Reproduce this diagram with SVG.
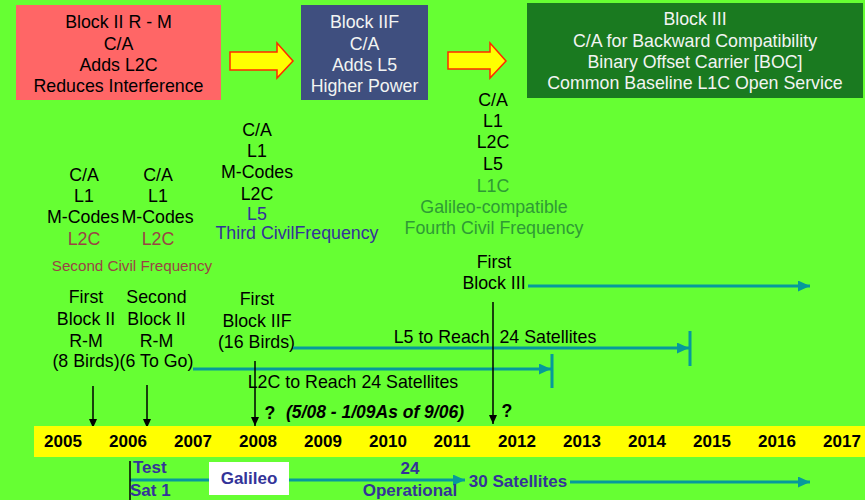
<svg xmlns="http://www.w3.org/2000/svg" width="865" height="500" viewBox="0 0 865 500">
<style>
text{font-family:"Liberation Sans",Arial,sans-serif;font-size:17.8px;text-anchor:middle;fill:#000}
.w{fill:#F2F4F2}
.br{fill:#994444}
.bl{fill:#333399}
.gr{fill:#2E9B35}
.sm{font-size:15.2px}
.b{font-weight:bold}
.yr{font-weight:bold;font-size:17px}
.tl{stroke:#06999B;stroke-width:3;fill:none}
.bk{stroke:#000;stroke-width:1.5;fill:none}
.ya{fill:#FFFF00;stroke:#FF2A00;stroke-width:1.5}
</style>
<defs>
<marker id="mt" markerUnits="userSpaceOnUse" markerWidth="12" markerHeight="11" refX="12" refY="5.5" orient="auto"><path d="M0,0 L12,5.5 L0,11 Z" fill="#06999B"/></marker>
<marker id="mb" markerUnits="userSpaceOnUse" markerWidth="9" markerHeight="8" refX="9" refY="4" orient="auto"><path d="M0,0 L9,4 L0,8 Z" fill="#000"/></marker>
</defs>
<rect width="865" height="500" fill="#66FF33"/>

<g id="block2rm">
<rect x="16" y="5" width="205" height="95" fill="#FF6666"/>
<text x="118.5" y="28">Block II R - M</text>
<text x="118.5" y="49.5">C/A</text>
<text x="118.5" y="71">Adds L2C</text>
<text x="118.5" y="92">Reduces Interference</text>
</g>
<g id="arrow1"><path class="ya" d="M230,52 H277 V43 L293,61 L277,78 V70 H230 Z"/></g>
<g id="block2f">
<rect x="301" y="5" width="127" height="95" fill="#3F4F7F"/>
<text class="w" x="364.5" y="28">Block IIF</text>
<text class="w" x="364.5" y="49.5">C/A</text>
<text class="w" x="364.5" y="71">Adds L5</text>
<text class="w" x="364.5" y="92">Higher Power</text>
</g>
<g id="arrow2"><path class="ya" d="M448,52 H490 V43 L506,61 L490,78 V69 H448 Z"/></g>
<g id="block3">
<rect x="527" y="3" width="336" height="95" fill="#1A7A20"/>
<text class="w" x="695" y="25">Block III</text>
<text class="w" x="695" y="46.5">C/A for Backward Compatibility</text>
<text class="w" x="695" y="68">Binary Offset Carrier [BOC]</text>
<text class="w" x="695" y="89">Common Baseline L1C Open Service</text>
</g>

<g id="signals1">
<text x="84" y="181">C/A</text>
<text x="84" y="202">L1</text>
<text x="83" y="223">M-Codes</text>
<text class="br" x="84" y="245">L2C</text>
</g>
<g id="signals2">
<text x="158" y="181">C/A</text>
<text x="158" y="202">L1</text>
<text x="157.5" y="223">M-Codes</text>
<text class="br" x="158" y="245">L2C</text>
</g>
<text class="br sm" x="132" y="271">Second Civil Frequency</text>
<g id="signals3">
<text x="257" y="136">C/A</text>
<text x="257" y="157">L1</text>
<text x="257" y="178">M-Codes</text>
<text x="257" y="199.5">L2C</text>
<text class="bl" x="257" y="220">L5</text>
<text class="bl" x="297" y="239">Third CivilFrequency</text>
</g>
<g id="signals4">
<text x="493" y="106">C/A</text>
<text x="493" y="127">L1</text>
<text x="493" y="148">L2C</text>
<text x="493" y="170">L5</text>
<text class="gr" x="493" y="192">L1C</text>
<text class="gr" x="494" y="213">Galileo-compatible</text>
<text class="gr" x="494" y="234">Fourth Civil Frequency</text>
</g>

<g id="launch1">
<text x="86" y="303">First</text>
<text x="86" y="325">Block II</text>
<text x="86" y="347">R-M</text>
<text x="86" y="367">(8 Birds)</text>
</g>
<g id="launch2">
<text x="156.5" y="303">Second</text>
<text x="156.5" y="325">Block II</text>
<text x="156.5" y="347">R-M</text>
<text x="156.5" y="367">(6 To Go)</text>
</g>
<g id="launch3">
<text x="257" y="305">First</text>
<text x="257" y="327">Block IIF</text>
<text x="256.5" y="348">(16 Birds)</text>
</g>
<g id="launch4">
<text x="494" y="268">First</text>
<text x="494" y="289">Block III</text>
</g>

<g id="connectors">
<line class="tl" x1="528" y1="286" x2="810" y2="286" marker-end="url(#mt)"/>
<line class="tl" x1="293" y1="348" x2="689" y2="348" marker-end="url(#mt)"/>
<line class="tl" x1="690" y1="331" x2="690" y2="366"/>
<line class="tl" x1="193" y1="369" x2="551" y2="369" marker-end="url(#mt)"/>
<line class="tl" x1="552" y1="354" x2="552" y2="388"/>
<line class="bk" x1="93" y1="386" x2="93" y2="428" marker-end="url(#mb)"/>
<line class="bk" x1="147" y1="385" x2="147" y2="428" marker-end="url(#mb)"/>
<line class="bk" x1="255" y1="361" x2="255" y2="426" marker-end="url(#mb)"/>
<line class="bk" x1="493" y1="302" x2="493" y2="424" marker-end="url(#mb)"/>
<line class="tl" x1="130" y1="480" x2="465" y2="480" marker-end="url(#mt)"/>
<line class="tl" x1="570" y1="482" x2="810" y2="482" marker-end="url(#mt)"/>
<line class="bk" x1="130" y1="461" x2="130" y2="500"/>
</g>

<text xml:space="preserve" x="495" y="343">L5 to Reach  24 Satellites</text>
<text x="353" y="388">L2C to Reach 24 Satellites</text>
<text class="b" x="270" y="419">?</text>
<text class="b" x="375" y="418" style="font-style:italic;font-size:17.5px">(5/08 - 1/09As of 9/06)</text>
<text class="b" x="507" y="417">?</text>

<g id="timeline">
<rect x="34" y="426" width="831" height="31" fill="#FFFF00"/>
<text class="yr" x="63" y="447">2005</text>
<text class="yr" x="128" y="447">2006</text>
<text class="yr" x="193" y="447">2007</text>
<text class="yr" x="258" y="447">2008</text>
<text class="yr" x="323" y="447">2009</text>
<text class="yr" x="388" y="447">2010</text>
<text class="yr" x="452" y="447">2011</text>
<text class="yr" x="517" y="447">2012</text>
<text class="yr" x="582" y="447">2013</text>
<text class="yr" x="647" y="447">2014</text>
<text class="yr" x="712" y="447">2015</text>
<text class="yr" x="777" y="447">2016</text>
<text class="yr" x="842" y="447">2017</text>
</g>

<g id="galileo">
<text class="b bl" x="133" y="473" style="text-anchor:start;font-size:17px">Test</text>
<text class="b bl" x="130" y="496" style="text-anchor:start;font-size:17px">Sat 1</text>
<rect x="209" y="462" width="80" height="33" fill="#FFFFFF"/>
<text class="b bl" x="249" y="484" style="font-size:17px">Galileo</text>
<text class="b bl" x="410" y="474" style="font-size:17px">24</text>
<text class="b bl" x="410" y="496" style="font-size:17px">Operational</text>
<text class="b bl" x="518" y="487" style="font-size:17px">30 Satellites</text>
</g>
</svg>
